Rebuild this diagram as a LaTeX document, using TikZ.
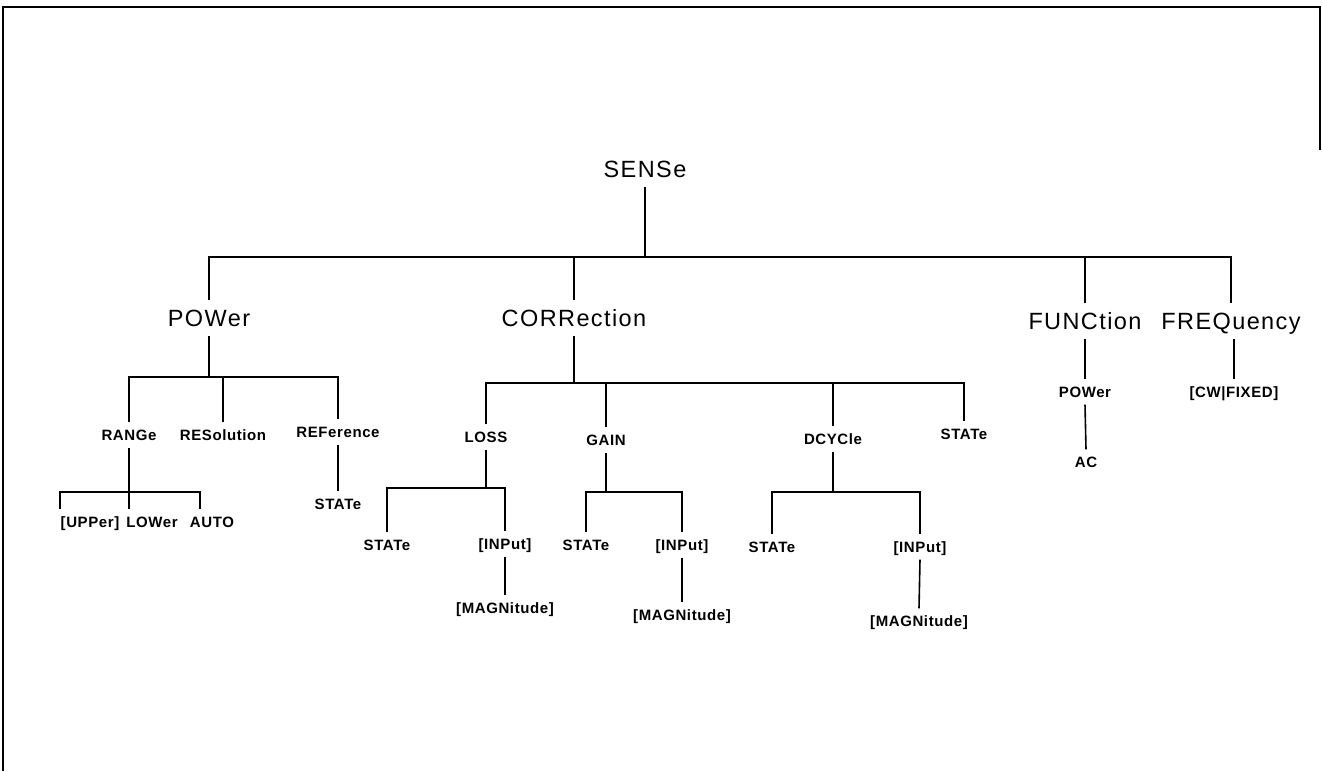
\documentclass[tikz,border=0pt]{standalone}
\usepackage{fontspec}
\setmainfont{Liberation Sans}
\newfontfamily\bigfont[LetterSpace=6]{Liberation Sans}
\newfontfamily\smallfont[LetterSpace=4]{Liberation Sans}
\begin{document}
\begin{tikzpicture}[x=1pt,y=-1pt,
  big/.style={font=\bigfont\fontsize{23.5}{24}\selectfont, text height=17pt, text depth=0pt, inner xsep=0pt, inner ysep=9pt},
  small/.style={font=\smallfont\bfseries\fontsize{15}{16}\selectfont, text height=10.7pt, text depth=0pt, inner xsep=0pt, inner ysep=7pt},
  conn/.style={line width=1.6pt},
  frame/.style={line width=2.6pt}]
\useasboundingbox (0,0) rectangle (1322,771);
\draw[frame] (3,771) -- (3,7) -- (1320,7) -- (1320,150);

% level 0/1
\node[big] (sense) at (645,169) {SENSe};
\node[big] (power) at (209,318) {POWer};
\node[big] (corr) at (574,318) {CORRection};
\node[big] (func) at (1085,321) {FUNCtion};
\node[big] (freq) at (1231,321) {FREQuency};
\coordinate (b0) at (0,257);
\draw[conn] (power.north) -- (power.north |- b0) -- (freq.north |- b0) -- (freq.north);
\draw[conn] (sense.south) -- (sense.south |- b0);
\draw[conn] (corr.north) -- (corr.north |- b0);
\draw[conn] (func.north) -- (func.north |- b0);

% POWer subtree
\node[small] (range) at (129,435) {RANGe};
\node[small] (resol) at (223,435) {RESolution};
\node[small] (ref) at (338,432) {REFerence};
\coordinate (b1) at (0,377);
\draw[conn] (power.south) -- (power.south |- b1);
\draw[conn] (range.north) -- (range.north |- b1) -- (ref.north |- b1) -- (ref.north);
\draw[conn] (resol.north) -- (resol.north |- b1);
\node[small] (refstate) at (338,504) {STATe};
\draw[conn] (ref.south) -- (refstate.north);

\node[small] (upper) at (90,522) {[UPPer]};
\node[small] (lower) at (152,522) {LOWer};
\node[small] (auto) at (212,522) {AUTO};
\coordinate (b2) at (0,492);
\coordinate (ux) at (60,0);
\coordinate (ax) at (200,0);
\draw[conn] (upper.north -| ux) -- (ux |- b2) -- (ax |- b2) -- (auto.north -| ax);
\draw[conn] (range.south) -- (lower.north -| range.south);

% CORRection subtree
\node[small] (loss) at (486,437) {LOSS};
\node[small] (gain) at (606,440) {GAIN};
\node[small] (dcyc) at (833,439) {DCYCle};
\node[small] (cstate) at (964,434) {STATe};
\coordinate (b3) at (0,383);
\draw[conn] (corr.south) -- (corr.south |- b3);
\draw[conn] (loss.north) -- (loss.north |- b3) -- (cstate.north |- b3) -- (cstate.north);
\draw[conn] (gain.north) -- (gain.north |- b3);
\draw[conn] (dcyc.north) -- (dcyc.north |- b3);

% LOSS
\node[small] (lstate) at (387,545) {STATe};
\node[small] (linput) at (505,544) {[INPut]};
\node[small] (lmag) at (505,608) {[MAGNitude]};
\coordinate (b4) at (0,488);
\draw[conn] (loss.south) -- (loss.south |- b4);
\draw[conn] (lstate.north) -- (lstate.north |- b4) -- (linput.north |- b4) -- (linput.north);
\draw[conn] (linput.south) -- (lmag.north);

% GAIN
\node[small] (gstate) at (586,545) {STATe};
\node[small] (ginput) at (682,545) {[INPut]};
\node[small] (gmag) at (682,615) {[MAGNitude]};
\coordinate (b5) at (0,492);
\draw[conn] (gain.south) -- (gain.south |- b5);
\draw[conn] (gstate.north) -- (gstate.north |- b5) -- (ginput.north |- b5) -- (ginput.north);
\draw[conn] (ginput.south) -- (gmag.north);

% DCYCle
\node[small] (dstate) at (772,547) {STATe};
\node[small] (dinput) at (920,547) {[INPut]};
\node[small] (dmag) at (919,621) {[MAGNitude]};
\draw[conn] (dcyc.south) -- (dcyc.south |- b5);
\draw[conn] (dstate.north) -- (dstate.north |- b5) -- (dinput.north |- b5) -- (dinput.north);
\draw[conn] (dinput.south) -- (dmag.north);

% FUNCtion / FREQuency
\node[small] (fpow) at (1085,392) {POWer};
\node[small] (ac) at (1086,462) {AC};
\draw[conn] (func.south) -- (fpow.north);
\draw[conn] (fpow.south) -- (ac.north);
\node[small] (cw) at (1234,392) {[CW|FIXED]};
\draw[conn] (freq.south -| cw.north) -- (cw.north);
\end{tikzpicture}
\end{document}
